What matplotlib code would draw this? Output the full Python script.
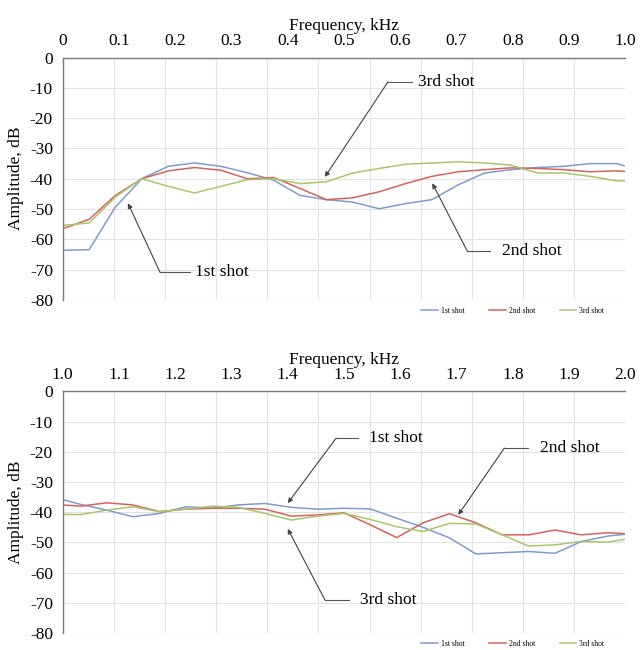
import matplotlib
matplotlib.use("Agg")
import matplotlib.pyplot as plt
import numpy as np

# frequency bin width of the spectrum, kHz
BIN_KHZ = 0.046875

shot1 = [-63.6, -63.4, -49.3, -40.0, -35.9, -34.8, -35.9, -38.0, -40.5, -45.5, -46.9,
         -47.7, -49.9, -48.2, -46.9, -42.0, -38.1, -37.0, -36.3, -35.9, -35.0, -35.0,
         -37.4, -39.3, -41.5, -40.4, -38.2, -38.7, -37.6, -37.1, -38.4, -39.0, -38.7,
         -38.9, -42.0, -45.0, -48.5, -53.8, -53.4, -53.0, -53.6, -49.7, -47.9, -47.0]
shot2 = [-56.5, -53.4, -45.5, -40.0, -37.4, -36.3, -37.2, -40.0, -39.6, -43.2, -46.9,
         -46.3, -44.3, -41.6, -39.2, -37.7, -37.0, -36.4, -36.6, -37.0, -37.7, -37.4,
         -38.0, -36.9, -37.6, -39.8, -39.0, -38.7, -38.7, -39.0, -41.3, -40.9, -40.2,
         -44.2, -48.4, -43.5, -40.5, -43.5, -47.5, -47.5, -45.9, -47.5, -46.8, -47.3]
shot3 = [-55.4, -54.6, -46.0, -40.0, -42.5, -44.7, -42.5, -40.3, -40.0, -41.6, -41.0,
         -38.1, -36.6, -35.2, -34.8, -34.4, -34.8, -35.5, -38.1, -38.1, -39.2, -40.7,
         -40.8, -39.3, -38.2, -39.8, -39.0, -38.0, -38.4, -40.4, -42.6, -41.3, -40.4,
         -42.4, -44.8, -46.4, -43.7, -43.9, -47.5, -51.2, -50.8, -49.7, -49.9, -48.5]

series = [("1st shot", shot1, "#7f9bd0"),
          ("2nd shot", shot2, "#d9625c"),
          ("3rd shot", shot3, "#a9c66c")]

top_ticks = [0, 0.1, 0.2, 0.3, 0.4, 0.5, 0.6, 0.7, 0.8, 0.9, 1.0]
top_labels = ["0", "0.1", "0.2", "0.3", "0.4", "0.5", "0.6", "0.7", "0.8", "0.9", "1.0"]
bot_ticks = [1.0, 1.1, 1.2, 1.3, 1.4, 1.5, 1.6, 1.7, 1.8, 1.9, 2.0]
bot_labels = ["1.0", "1.1", "1.2", "1.3", "1.4", "1.5", "1.6", "1.7", "1.8", "1.9", "2.0"]
y_ticks = [0, -10, -20, -30, -40, -50, -60, -70, -80]

# callouts: label, text-left (x, y), end of horizontal stub, knee, arrow tip
top_notes = [
    ("3rd shot", (0.632, -8.1), 0.621, 0.578, (0.466, -39.4)),
    ("1st shot", (0.235, -70.9), 0.226, 0.173, (0.116, -48.1)),
    ("2nd shot", (0.781, -63.8), 0.760, 0.719, (0.657, -41.5)),
]
bot_notes = [
    ("1st shot", (1.545, -15.5), 1.525, 1.486, (1.400, -37.0)),
    ("2nd shot", (1.849, -18.8), 1.827, 1.785, (1.703, -40.9)),
    ("3rd shot", (1.528, -69.0), 1.509, 1.466, (1.400, -45.5)),
]

plt.rcParams["font.family"] = ["Liberation Serif", "DejaVu Serif"]
plt.rcParams["axes.unicode_minus"] = False

freq = np.arange(len(shot1)) * BIN_KHZ

fig = plt.figure(figsize=(6.4, 6.5), dpi=100)
ax_top = fig.add_axes([0.098, 0.5385, 0.879, 0.373])
ax_bot = fig.add_axes([0.098, 0.026, 0.879, 0.372])


def style_axes(ax, x0, x1, ticks, labels, notes):
    for name, vals, col in series:
        ax.plot(freq, vals, color=col, linewidth=1.1, label=name)
    ax.set_xlim(x0, x1)
    ax.set_ylim(-80, 0)
    ax.xaxis.tick_top()
    ax.xaxis.set_label_position("top")
    ax.set_xticks(ticks)
    ax.set_xticklabels(labels)
    ax.set_xticks(np.linspace(x0, x1, 12), minor=True)
    ax.set_yticks(y_ticks)
    ax.tick_params(axis="both", which="both", length=0, labelsize=12.5)
    ax.tick_params(axis="x", pad=6)
    ax.tick_params(axis="y", pad=7)
    ax.set_xlabel("Frequency, kHz", fontsize=12.5, labelpad=2)
    ax.set_ylabel("Amplitude, dB", fontsize=12.5, labelpad=4)
    ax.grid(which="minor", axis="x", color="#e3e3e3", linewidth=0.8)
    ax.grid(which="major", axis="y", color="#e3e3e3", linewidth=0.8)
    ax.set_axisbelow(True)
    for side in ("right", "bottom"):
        ax.spines[side].set_visible(False)
    for side in ("left", "top"):
        ax.spines[side].set_color("#7a7a7a")
        ax.spines[side].set_linewidth(1.0)

    for text, (tx, ty), stub, knee, tip in notes:
        ax.text(tx, ty, text, fontsize=12.5, ha="left", va="center")
        ax.plot([knee, stub], [ty, ty], color="#555555", linewidth=0.8)
        ax.annotate("", xy=tip, xytext=(knee, ty),
                    arrowprops=dict(arrowstyle="-|>", color="#444444", lw=0.8,
                                    mutation_scale=7, shrinkA=0, shrinkB=0))

    ax.legend(loc="center", bbox_to_anchor=(0.80, -0.045), ncol=3, frameon=False,
              fontsize=5.5, handlelength=2.2, columnspacing=3.2, handletextpad=0.4)


style_axes(ax_top, 0.0, 1.0, top_ticks, top_labels, top_notes)
style_axes(ax_bot, 1.0, 2.0, bot_ticks, bot_labels, bot_notes)

fig.savefig("out.png", dpi=100)
